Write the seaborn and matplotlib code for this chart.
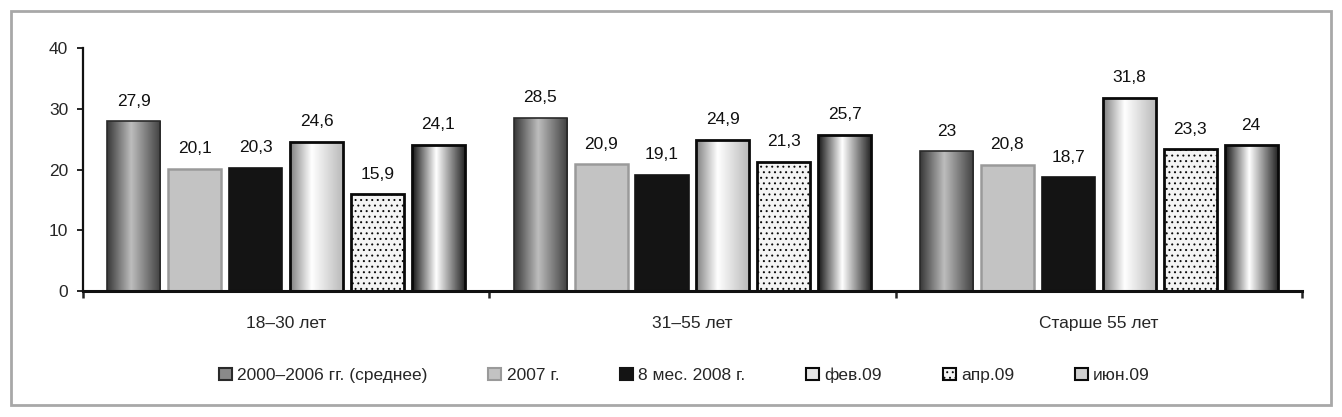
import numpy as np
import pandas as pd
import matplotlib
matplotlib.use("Agg")
import matplotlib.pyplot as plt
import seaborn as sns
from matplotlib.patches import Rectangle, Patch

# data
groups = ["18–30 лет", "31–55 лет", "Старше 55 лет"]
series = ["2000–2006 гг. (среднее)", "2007 г.", "8 мес. 2008 г.", "фев.09", "апр.09", "июн.09"]
avg_2000_2006 = [27.9, 28.5, 23.0]
year_2007     = [20.1, 20.9, 20.8]
months_2008   = [20.3, 19.1, 18.7]
feb_09        = [24.6, 24.9, 31.8]
apr_09        = [15.9, 21.3, 23.3]
jun_09        = [24.1, 25.7, 24.0]
y_ticks       = [0, 10, 20, 30, 40]

values = [avg_2000_2006, year_2007, months_2008, feb_09, apr_09, jun_09]
df = pd.DataFrame(
    [(g, s, v[i]) for s, v in zip(series, values) for i, g in enumerate(groups)],
    columns=["group", "series", "value"],
)

sns.set_style("white")
plt.rcParams["font.family"] = ["Liberation Sans", "DejaVu Sans"]
plt.rcParams["hatch.linewidth"] = 0.7
plt.rcParams["hatch.color"] = "#222222"

# per-series look: base fill, edge colour, edge width, gradient stops, hatch
styles = {
    series[0]: dict(fc="#8a8a8a", ec="#2a2a2a", lw=1.2, grad=([0, 0.45, 1], [0.22, 0.74, 0.25]), hatch=None),
    series[1]: dict(fc="#c3c3c3", ec="#9a9a9a", lw=1.8, grad=None, hatch=None),
    series[2]: dict(fc="#141414", ec="#141414", lw=1.2, grad=None, hatch=None),
    series[3]: dict(fc="#e6e6e6", ec="#0a0a0a", lw=2.0, grad=([0, 0.4, 1], [0.5, 1.0, 0.72]), hatch=None),
    series[4]: dict(fc="#f4f4f4", ec="#0a0a0a", lw=2.0, grad=None, hatch="..."),
    series[5]: dict(fc="#d0d0d0", ec="#0a0a0a", lw=2.0, grad=([0, 0.45, 1], [0.08, 1.0, 0.12]), hatch=None),
}

fig = plt.figure(figsize=(13.42, 4.17), dpi=100)
ax = fig.add_axes([0.0618, 0.302, 0.9084, 0.583])

sns.barplot(
    data=df, x="group", y="value", hue="series",
    order=groups, hue_order=series,
    palette={s: styles[s]["fc"] for s in series},
    width=0.9, gap=0.13, saturation=1, legend=False, ax=ax,
)

for s, cont in zip(series, ax.containers):
    st = styles[s]
    for bar in cont:
        bar.set_edgecolor(st["ec"])
        bar.set_linewidth(st["lw"])
        if st["hatch"]:
            bar.set_hatch(st["hatch"])
        if st["grad"]:
            xs = np.linspace(0, 1, 200)
            row = np.interp(xs, *st["grad"])
            x0, w, h = bar.get_x(), bar.get_width(), bar.get_height()
            img = ax.imshow(row[np.newaxis, :], cmap="gray", vmin=0, vmax=1,
                            extent=(x0, x0 + w, 0, h), aspect="auto",
                            interpolation="bilinear", zorder=0.9)
            img.set_clip_path(bar)
            bar.set_facecolor("none")
    labels = [f"{v:g}".replace(".", ",") for v in cont.datavalues]
    ax.bar_label(cont, labels=labels, padding=9, fontsize=12.5, color="#111111")

ax.set_xlim(-0.5, 2.5)
ax.set_ylim(0, 40)
ax.set_yticks(y_ticks)
ax.set_xlabel("")
ax.set_ylabel("")

for side in ["top", "right"]:
    ax.spines[side].set_visible(False)
ax.spines["left"].set_linewidth(1.6)
ax.spines["bottom"].set_linewidth(2.2)
ax.spines["left"].set_color("#111111")
ax.spines["bottom"].set_color("#111111")

ax.tick_params(axis="y", direction="out", length=4.5, width=1.4, pad=6, labelsize=12.5, left=True)
ax.tick_params(axis="x", which="major", length=0, pad=18, labelsize=12.5)
ax.set_xticks([-0.5, 0.5, 1.5, 2.5], minor=True)
ax.tick_params(axis="x", which="minor", direction="out", length=5, width=1.8, bottom=True)

handles = []
for s in series:
    st = styles[s]
    handles.append(Patch(facecolor=st["fc"], edgecolor=st["ec"], linewidth=1.5,
                         hatch=st["hatch"], label=s))
fig.legend(handles=handles, loc="center", bbox_to_anchor=(0.51, 0.10), ncol=6,
           frameon=False, fontsize=12.5, handlelength=0.75, handleheight=0.75,
           handletextpad=0.3, columnspacing=3.5)

fig.add_artist(Rectangle((0.0082, 0.0288), 0.9836, 0.9448, transform=fig.transFigure,
                         fill=False, edgecolor="#a8a8a8", linewidth=2.0))

fig.savefig("out.png", dpi=100)
plt.close(fig)
